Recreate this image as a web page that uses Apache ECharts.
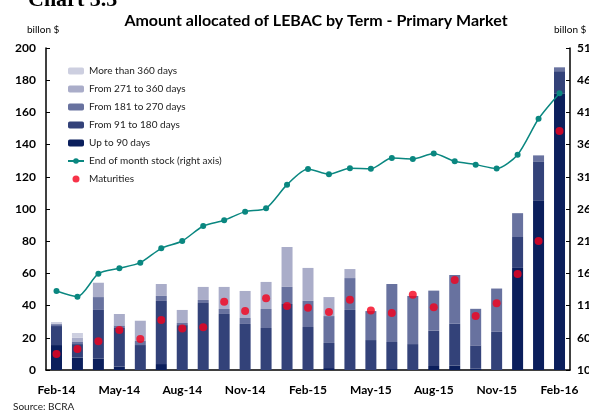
<!DOCTYPE html>
<html>
<head>
<meta charset="utf-8">
<script src="https://cdn.jsdelivr.net/npm/echarts@6/dist/echarts.min.js"></script>
<style>
  html, body { margin: 0; padding: 0; background: #fff; }
  #chart { width: 589px; height: 414px; }
</style>
</head>
<body>
<div id="chart"></div>
<script>
  /* data, billon $ */
  var months = ['Feb-14','Mar-14','Apr-14','May-14','Jun-14','Jul-14','Aug-14','Sep-14','Oct-14','Nov-14','Dec-14','Jan-15',
    'Feb-15','Mar-15','Apr-15','May-15','Jun-15','Jul-15','Aug-15','Sep-15','Oct-15','Nov-15','Dec-15','Jan-16','Feb-16'];
  var upTo90   = [15.5, 7.7, 7.0, 2.1, 0, 3.7, 0, 0, 0, 0, 0, 0, 0, 1.2, 0, 0, 0.6, 0, 2.5, 2.7, 0.8, 0, 63.4, 105.5, 171.5];
  var d91to180 = [11.8, 8.4, 30.3, 24.0, 15.5, 39.2, 27.9, 41.6, 34.8, 28.6, 26.1, 41.0, 26.7, 15.6, 37.3, 18.6, 16.8, 16.1, 21.9, 26.0, 14.5, 23.7, 19.2, 24.1, 14.1];
  var d181to270 = [1.2, 1.3, 8.0, 1.6, 2.5, 3.1, 1.3, 1.9, 3.1, 3.7, 11.8, 10.6, 16.2, 16.7, 19.8, 18.0, 36.0, 29.9, 24.9, 30.3, 22.7, 26.9, 14.8, 3.7, 2.4];
  var d271to360 = [0, 2.7, 8.9, 7.1, 12.6, 7.4, 8.1, 8.1, 13.7, 16.8, 16.8, 24.8, 20.5, 11.8, 5.6, 0, 0, 0, 0, 0, 0, 0, 0, 0, 0];
  var over360  = [1.3, 2.9, 0, 0, 0, 0, 0, 0, 0, 0, 0, 0, 0, 0, 0, 0, 0, 0, 0, 0, 0, 0, 0, 0, 0];
  var maturities = [9.9, 13.0, 17.8, 24.8, 19.3, 31.1, 25.7, 26.5, 42.4, 36.6, 44.5, 39.8, 38.7, 36.0, 43.7, 36.9, 35.4, 46.8, 38.9, 55.9, 33.6, 41.5, 59.6, 80.1, 148.4];
  var stock = [132.7, 123.9, 159.6, 167.9, 176.7, 198.9, 210.3, 233.6, 242.5, 255.9, 261.1, 297.8, 322.1, 313.9, 323.2, 322.6, 339.2, 337.7, 346.2, 334.0, 328.9, 322.7, 344.4, 400.1, 439.8];

  var font = 'Lato, "DejaVu Sans", sans-serif';
  var myChart = echarts.init(document.getElementById('chart'));

  function barSeries(name, data, color) {
    return {
      name: name, type: 'bar', stack: 'term', data: data,
      barWidth: 11,
      itemStyle: { color: color },
      z: 2
    };
  }

  var option = {
    animation: false,
    backgroundColor: '#fff',
    textStyle: { fontFamily: font },
    graphic: [
      { type: 'text', left: 28, top: -11, style: { text: 'Chart 3.3', font: 'bold 22px "Liberation Serif", serif', fill: '#000' } },
      { type: 'text', left: 27, top: 25, style: { text: 'billon $', font: '10px ' + font, fill: '#000' } },
      { type: 'text', left: 554, top: 25, style: { text: 'billon $', font: '10px ' + font, fill: '#000' } },
      { type: 'text', left: 13, top: 402, style: { text: 'Source: BCRA', font: '10px ' + font, fill: '#222' } }
    ],
    title: {
      text: 'Amount allocated of LEBAC by Term - Primary Market',
      left: 311, textAlign: 'center', top: 8,
      textStyle: { fontFamily: font, fontSize: 16, fontWeight: 'bold', color: '#000' }
    },
    legend: {
      orient: 'vertical', left: 62, top: 60,
      itemWidth: 16, itemHeight: 7, itemGap: 6,
      textStyle: { fontFamily: font, fontSize: 10, color: '#222', lineHeight: 12 },
      data: [
        { name: 'More than 360 days' },
        { name: 'From 271 to 360 days' },
        { name: 'From 181 to 270 days' },
        { name: 'From 91 to 180 days' },
        { name: 'Up to 90 days' },
        { name: 'End of month stock (right axis)' },
        { name: 'Maturities' }
      ]
    },
    grid: { left: 46, right: 19, top: 48, bottom: 44, outerBoundsMode: 'none' },
    xAxis: {
      type: 'category', data: months, boundaryGap: true,
      axisLine: { lineStyle: { color: '#000', width: 1.5 } },
      axisTick: { inside: true, length: 4, interval: 2, lineStyle: { color: '#000' } },
      axisLabel: { interval: 2, margin: 14, fontFamily: font, fontSize: 12, fontWeight: 'bold', color: '#000' }
    },
    yAxis: [
      {
        type: 'value', min: 0, max: 200, interval: 20,
        axisLine: { show: true, lineStyle: { color: '#000', width: 1.5 } },
        axisTick: { show: true, inside: true, length: 4, lineStyle: { color: '#000' } },
        axisLabel: { margin: 10, fontFamily: font, fontSize: 12, fontWeight: 'bold', color: '#000' },
        splitLine: { show: false }
      },
      {
        type: 'value', min: 10, max: 510, interval: 50, position: 'right',
        axisLine: { show: true, lineStyle: { color: '#000', width: 1.5 } },
        axisTick: { show: true, inside: true, length: 4, lineStyle: { color: '#000' } },
        axisLabel: { margin: 7, fontFamily: font, fontSize: 12, fontWeight: 'bold', color: '#000' },
        splitLine: { show: false }
      }
    ],
    series: [
      barSeries('Up to 90 days', upTo90, '#0b1f5c'),
      barSeries('From 91 to 180 days', d91to180, '#334279'),
      barSeries('From 181 to 270 days', d181to270, '#68729f'),
      barSeries('From 271 to 360 days', d271to360, '#aaadc9'),
      barSeries('More than 360 days', over360, '#cdcfe0'),
      {
        name: 'End of month stock (right axis)', type: 'line', yAxisIndex: 1,
        data: stock, smooth: 0.25,
        symbol: 'circle', symbolSize: 6,
        lineStyle: { color: '#0a8780', width: 1.5 },
        itemStyle: { color: '#0a8780' },
        z: 4
      },
      {
        name: 'Maturities', type: 'scatter', data: maturities,
        symbol: 'circle', symbolSize: 8,
        itemStyle: { color: '#f5001c' },
        z: 5
      }
    ]
  };
  myChart.setOption(option);
</script>
</body>
</html>
